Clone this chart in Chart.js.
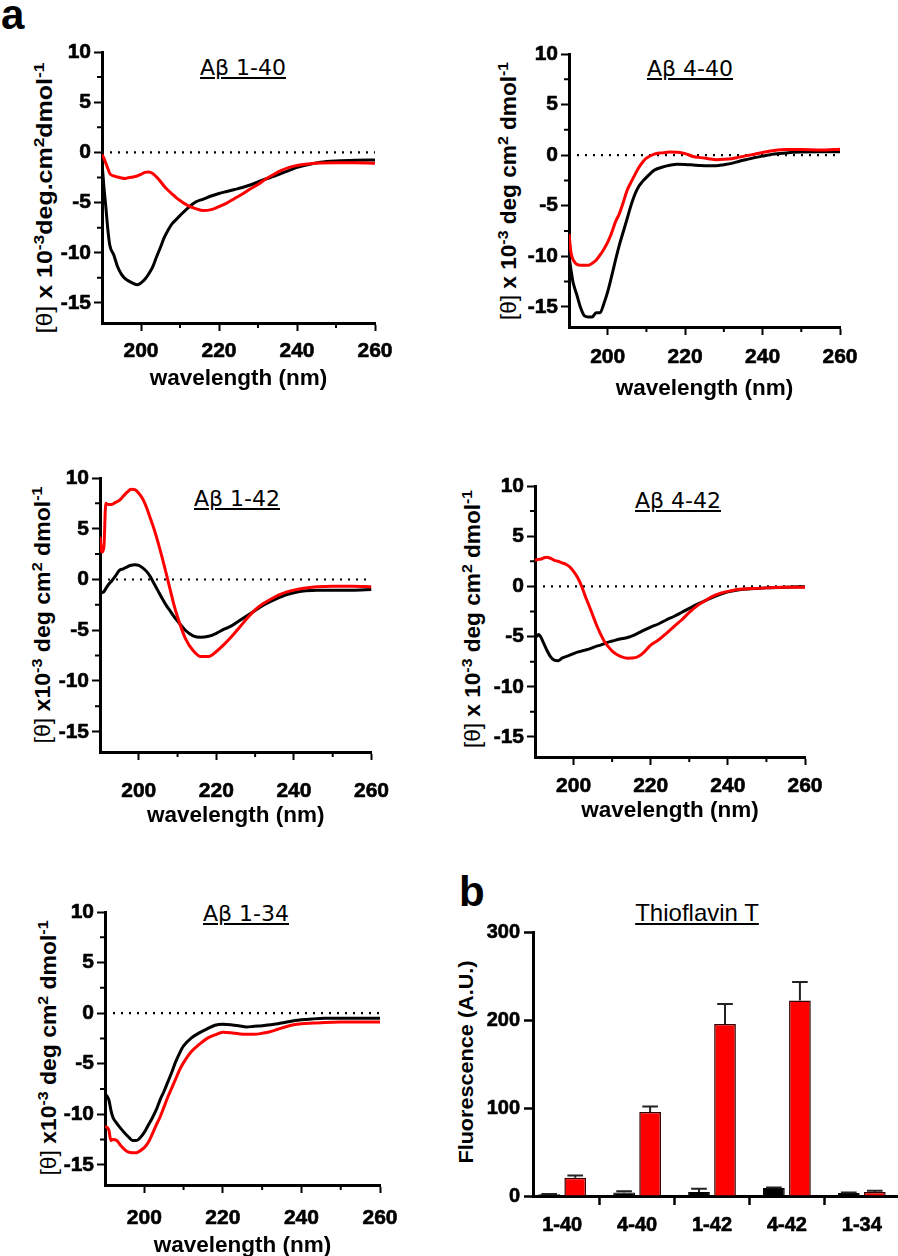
<!DOCTYPE html>
<html>
<head>
<meta charset="utf-8">
<title>CD spectra and Thioflavin T</title>
<script src="https://cdn.jsdelivr.net/npm/chart.js@4.4.1/dist/chart.umd.min.js"></script>
<style>
  html, body { margin: 0; padding: 0; background: #fff; }
  body { position: relative; width: 898px; height: 1256px; overflow: hidden; color: #000; }
  .box { position: absolute; }
  .box canvas { display: block; }
  .tag { position: absolute; font: bold 42px "Liberation Sans", Arial, sans-serif; line-height: 1; }
  .ttl { position: absolute; font: 22px "DejaVu Sans", sans-serif; line-height: 1; white-space: nowrap;
         transform: translateX(-50%); text-decoration: underline; text-decoration-thickness: 1.5px; text-underline-offset: 2px; }
  .ttl.tht { font: 24px "Liberation Sans", Arial, sans-serif; line-height: 1; }
  .ylab { position: absolute; font: bold 22px "Liberation Sans", Arial, sans-serif; line-height: 1; white-space: nowrap; }
  .ylab.tht { font-size: 21px; }
  .ylab sup { font-size: 0.7em; vertical-align: 0.5em; line-height: 0; }
  .ylab .th { font-weight: normal; }
</style>
</head>
<body>

<div class="tag" style="left:1px;top:-6px">a</div>
<div class="tag" style="left:459px;top:871px">b</div>

<div class="ttl" style="left:243px;top:57px">Aβ 1-40</div>
<div class="ttl" style="left:690px;top:58px">Aβ 4-40</div>
<div class="ttl" style="left:237px;top:488px">Aβ 1-42</div>
<div class="ttl" style="left:678px;top:490px">Aβ 4-42</div>
<div class="ttl" style="left:246px;top:903px">Aβ 1-34</div>
<div class="ttl tht" style="left:697px;top:901px">Thioflavin T</div>

<div class="ylab" data-len="271" style="left:45px;top:198px"><span class="th">[θ]</span> x 10<sup>-3</sup>deg.cm<sup>2</sup>dmol<sup>-1</sup></div>
<div class="ylab" data-len="258" style="left:509px;top:191px"><span class="th">[θ]</span> x 10<sup>-3</sup> deg cm<sup>2</sup> dmol<sup>-1</sup></div>
<div class="ylab" data-len="257" style="left:43px;top:615px"><span class="th">[θ]</span> x10<sup>-3</sup> deg cm<sup>2</sup> dmol<sup>-1</sup></div>
<div class="ylab" data-len="258" style="left:473px;top:619px"><span class="th">[θ]</span> x 10<sup>-3</sup> deg cm<sup>2</sup> dmol<sup>-1</sup></div>
<div class="ylab" data-len="255" style="left:49px;top:1048px"><span class="th">[θ]</span> x10<sup>-3</sup> deg cm<sup>2</sup> dmol<sup>-1</sup></div>
<div class="ylab tht" data-len="203" style="left:465px;top:1062px">Fluorescence (A.U.)</div>

<div class="box" id="p140"><canvas></canvas></div>
<div class="box" id="p440"><canvas></canvas></div>
<div class="box" id="p142"><canvas></canvas></div>
<div class="box" id="p442"><canvas></canvas></div>
<div class="box" id="p134"><canvas></canvas></div>
<div class="box" id="ptht"><canvas></canvas></div>

<script>
// wavelength grid (nm) shared by every CD spectrum
const wl = [190, 190.5, 191, 191.5, 192, 193, 194, 195, 196, 197, 198, 199, 200, 201, 202, 203, 204, 205,
  206, 207, 208, 209, 210, 212, 214, 216, 218, 220, 222, 224, 226, 228, 230, 232, 234, 236, 238, 240,
  243, 246, 250, 255, 260];

// [theta] x 10^-3, black = monomer trace, red = aggregated trace
const ab140Black = [-1.0, -3.5, -5.5, -7.7, -9.25, -10.2, -11.4, -12.15, -12.6, -12.85, -13.05, -13.2, -13.0,
  -12.65, -12.1, -11.4, -10.4, -9.45, -8.45, -7.7, -7.1, -6.7, -6.3, -5.55, -4.95, -4.65, -4.35, -4.1, -3.9,
  -3.7, -3.5, -3.25, -2.95, -2.65, -2.4, -2.1, -1.8, -1.5, -1.2, -0.98, -0.85, -0.78, -0.76];
const ab140Red = [-0.2, -0.6, -1.1, -1.6, -2.1, -2.35, -2.45, -2.55, -2.6, -2.5, -2.45, -2.35, -2.2, -2.0,
  -1.95, -2.1, -2.45, -2.9, -3.4, -3.8, -4.15, -4.5, -4.8, -5.3, -5.6, -5.8, -5.7, -5.4, -5.05, -4.6, -4.15,
  -3.65, -3.2, -2.65, -2.2, -1.8, -1.5, -1.3, -1.15, -1.06, -1.03, -1.03, -1.09];

const ab440Black = [-10.0, -11.3, -12.5, -13.2, -13.8, -15.1, -15.9, -16.0, -16.0, -15.6, -15.6, -14.7, -13.5,
  -12.0, -10.4, -8.9, -7.6, -6.3, -5.0, -3.9, -3.1, -2.6, -2.2, -1.5, -1.2, -1.0, -0.9, -0.92, -0.97, -1.03,
  -1.05, -1.05, -0.95, -0.82, -0.6, -0.42, -0.25, -0.1, 0.1, 0.22, 0.3, 0.33, 0.33];
const ab440Red = [-7.8, -9.6, -10.3, -10.6, -10.8, -10.9, -10.9, -10.9, -10.7, -10.4, -9.9, -9.3, -8.6, -7.7,
  -6.6, -5.8, -4.7, -3.5, -2.7, -1.95, -1.25, -0.7, -0.3, 0.1, 0.22, 0.3, 0.28, 0.15, -0.13, -0.25, -0.35,
  -0.45, -0.42, -0.35, -0.2, -0.05, 0.1, 0.25, 0.45, 0.55, 0.55, 0.5, 0.59];

const ab142Black = [-1.4, -1.3, -1.2, -0.9, -0.6, -0.15, 0.35, 0.9, 1.05, 1.25, 1.4, 1.45, 1.4, 1.15, 0.8,
  0.26, -0.45, -1.15, -1.85, -2.5, -3.05, -3.6, -4.1, -5.0, -5.55, -5.7, -5.6, -5.3, -4.9, -4.55, -4.05,
  -3.55, -3.05, -2.55, -2.15, -1.8, -1.5, -1.3, -1.12, -1.05, -1.05, -1.05, -0.98];
const ab142Red = [4.2, 2.7, 3.2, 7.5, 7.4, 7.4, 7.6, 7.8, 8.2, 8.6, 8.9, 8.85, 8.5, 7.95, 7.1, 6.0, 4.9, 3.6,
  2.2, 0.7, -0.85, -2.4, -3.7, -5.8, -7.0, -7.6, -7.6, -7.1, -6.4, -5.6, -4.7, -3.8, -3.0, -2.4, -1.95,
  -1.55, -1.25, -1.05, -0.85, -0.72, -0.66, -0.66, -0.72];

const ab442Black = [-5.1, -4.95, -4.8, -5.05, -5.45, -6.3, -7.0, -7.35, -7.4, -7.15, -7.0, -6.85, -6.7, -6.55,
  -6.45, -6.35, -6.25, -6.1, -5.95, -5.85, -5.7, -5.55, -5.45, -5.25, -5.1, -4.8, -4.4, -4.05, -3.75, -3.35,
  -3.0, -2.6, -2.2, -1.8, -1.45, -1.1, -0.8, -0.55, -0.33, -0.24, -0.15, -0.08, -0.03];
const ab442Red = [2.6, 2.65, 2.7, 2.7, 2.8, 2.9, 2.8, 2.6, 2.5, 2.35, 2.2, 1.95, 1.5, 0.9, 0.1, -0.95, -1.9,
  -2.9, -3.9, -4.75, -5.5, -6.0, -6.45, -6.95, -7.15, -7.1, -6.65, -5.85, -5.35, -4.7, -4.0, -3.35, -2.6,
  -1.94, -1.45, -1.0, -0.7, -0.5, -0.28, -0.22, -0.15, -0.1, -0.1];

const ab134Black = [-8.0, -8.2, -8.6, -9.6, -10.3, -10.9, -11.4, -11.85, -12.25, -12.6, -12.6, -12.3, -11.8,
  -11.1, -10.4, -9.6, -8.6, -7.75, -6.8, -5.85, -4.8, -3.95, -3.25, -2.45, -1.95, -1.55, -1.2, -1.1, -1.15,
  -1.25, -1.38, -1.3, -1.25, -1.15, -1.05, -0.9, -0.75, -0.65, -0.57, -0.52, -0.5, -0.5, -0.5];
const ab134Red = [-11.2, -11.3, -11.6, -12.6, -12.5, -12.6, -13.1, -13.5, -13.75, -13.8, -13.8, -13.6, -13.3,
  -12.8, -12.0, -11.1, -10.3, -9.3, -8.3, -7.4, -6.5, -5.6, -4.9, -3.8, -3.1, -2.5, -2.15, -1.9, -1.95,
  -2.05, -2.1, -2.1, -2.0, -1.85, -1.6, -1.35, -1.15, -1.05, -0.98, -0.92, -0.89, -0.89, -0.89];

const zeroWl = [190, 260];
const zeroVal = [0, 0];
const cdXTicks = [200, 220, 240, 260];
const cdYTicks = [-15, -10, -5, 0, 5, 10];

// Thioflavin T fluorescence (A.U.), mean and upper error
const groups = ['1-40', '4-40', '1-42', '4-42', '1-34'];
const thtBlack = [2, 4, 4.5, 9, 3.5];
const thtBlackErr = [0.4, 1.5, 3.7, 0.8, 0.5];
const thtRed = [20.6, 95.4, 195.4, 222.3, 4.5];
const thtRedErr = [2.6, 6.3, 22.7, 21, 1.5];
const thtYTicks = [0, 100, 200, 300];

const RED = '#ff0000';
const ARIAL = '"Liberation Sans", Arial, sans-serif';
Chart.defaults.color = '#000';
Chart.defaults.font.family = ARIAL;

// rotate the y titles and stretch them to the length they have in the figure
document.querySelectorAll('.ylab').forEach(el => {
  const k = (+el.dataset.len) / el.offsetWidth;
  el.style.transform = `translate(-50%, -50%) rotate(-90deg) scaleX(${k.toFixed(3)})`;
});

// short unlabeled ticks half way between the labeled ones
const minorTicks = {
  id: 'minorTicks',
  afterDraw(chart) {
    const { ctx } = chart;
    ctx.save();
    ctx.strokeStyle = '#000';
    ctx.lineWidth = 2;
    ['x', 'y'].forEach(id => {
      const s = chart.scales[id];
      const vals = s.ticks.map(t => t.value);
      ctx.beginPath();
      for (let i = 0; i < vals.length - 1; i++) {
        const p = s.getPixelForValue((vals[i] + vals[i + 1]) / 2);
        if (id === 'x') { ctx.moveTo(p, s.top); ctx.lineTo(p, s.top + 5); }
        else { ctx.moveTo(s.right, p); ctx.lineTo(s.right - 5, p); }
      }
      ctx.stroke();
    });
    ctx.restore();
  }
};

const errorBars = {
  id: 'errorBars',
  afterDatasetsDraw(chart) {
    const { ctx } = chart;
    const y = chart.scales.y;
    ctx.save();
    ctx.strokeStyle = '#222';
    ctx.lineWidth = 2;
    chart.data.datasets.forEach((ds, i) => {
      if (!ds.errUp) return;
      chart.getDatasetMeta(i).data.forEach((bar, j) => {
        const top = y.getPixelForValue(ds.data[j].y + ds.errUp[j]);
        const half = bar.width * 0.36;
        ctx.beginPath();
        ctx.moveTo(bar.x, bar.y);
        ctx.lineTo(bar.x, top);
        ctx.moveTo(bar.x - half, top);
        ctx.lineTo(bar.x + half, top);
        ctx.stroke();
      });
    });
    ctx.restore();
  }
};

function place(id, left, top, width, height) {
  const box = document.getElementById(id);
  box.style.left = left + 'px';
  box.style.top = top + 'px';
  const canvas = box.querySelector('canvas');
  canvas.width = Math.round(width);
  canvas.height = Math.round(height);
  return canvas;
}

const pts = (xs, ys) => xs.map((x, i) => ({ x, y: ys[i] }));

function axisStyle(tickLength, tickWidth) {
  return {
    border: { display: true, color: '#000', width: 3 },
    grid: { display: true, drawOnChartArea: false, drawTicks: true, tickLength, tickWidth, tickColor: '#000' }
  };
}

// a thin outline makes the tick numbers as heavy as in the figure
const heavy = { textStrokeColor: '#000', textStrokeWidth: 0.6 };

function cdChart(p) {
  const Wy = 80, padTop = 16, padRight = 34;
  const titleFont = { family: ARIAL, weight: 'bold', size: 22.5 };
  const Hx = Math.round(p.titleY - p.bottom + 22.5 * 1.2 / 2);
  const cl = p.left - Wy, ct = p.top - padTop;
  const canvas = place(p.id, cl, ct, p.right + padRight - cl, p.bottom + Hx - ct);
  const tickFont = { family: ARIAL, weight: 'bold', size: 21 };
  return new Chart(canvas, {
    type: 'line',
    data: {
      datasets: [
        { data: pts(wl, p.red), borderColor: RED, borderWidth: 3, pointRadius: 0, cubicInterpolationMode: 'monotone', borderJoinStyle: 'round' },
        { data: pts(wl, p.black), borderColor: '#000', borderWidth: 3, pointRadius: 0, cubicInterpolationMode: 'monotone', borderJoinStyle: 'round' },
        { data: pts(zeroWl, zeroVal), borderColor: '#000', borderWidth: 2.2, borderDash: [2, 6], pointRadius: 0 }
      ]
    },
    options: {
      responsive: false,
      animation: false,
      events: [],
      layout: { padding: { top: padTop, right: padRight, left: 0, bottom: 0 } },
      plugins: { legend: { display: false }, tooltip: { enabled: false } },
      scales: {
        x: {
          type: 'linear', min: 190, max: 260,
          afterBuildTicks: s => { s.ticks = cdXTicks.map(v => ({ value: v })); },
          afterFit: s => { s.height = Hx; },
          ...axisStyle(8, 2),
          ticks: { font: tickFont, padding: p.tickPad, maxRotation: 0, autoSkip: false, ...heavy },
          title: { display: true, text: 'wavelength (nm)', font: titleFont, padding: { top: 0, bottom: 0 } }
        },
        y: {
          type: 'linear', min: -17, max: 10,
          afterBuildTicks: s => { s.ticks = cdYTicks.map(v => ({ value: v })); },
          afterFit: s => { s.width = Wy; },
          ...axisStyle(8, 2),
          ticks: { font: tickFont, padding: 3, ...heavy }
        }
      }
    },
    plugins: [minorTicks]
  });
}

cdChart({ id: 'p140', left: 102, right: 375, top: 52, bottom: 323, titleY: 378, tickPad: 8, black: ab140Black, red: ab140Red });
cdChart({ id: 'p440', left: 569, right: 840, top: 54, bottom: 327, titleY: 388, tickPad: 10, black: ab440Black, red: ab440Red });
cdChart({ id: 'p142', left: 100, right: 374, top: 478, bottom: 752, titleY: 815, tickPad: 19, black: ab142Black, red: ab142Red });
cdChart({ id: 'p442', left: 535, right: 805, top: 486, bottom: 757, titleY: 810, tickPad: 9, black: ab442Black, red: ab442Red });
cdChart({ id: 'p134', left: 105, right: 380, top: 912, bottom: 1185, titleY: 1245, tickPad: 13, black: ab134Black, red: ab134Red });

// Thioflavin T bars
(function () {
  const left = 533, right = 897, top = 932, bottom = 1196;
  const Wy = 100, padTop = 16, Hx = 50;
  const cl = left - Wy, ct = top - padTop;
  const canvas = place('ptht', cl, ct, 898 - cl, bottom + Hx - ct);
  const font = { family: ARIAL, weight: 'bold', size: 20 };
  new Chart(canvas, {
    type: 'bar',
    data: {
      datasets: [
        { data: pts(groups.map((g, i) => i), thtBlack), errUp: thtBlackErr, backgroundColor: '#000', borderColor: '#000', borderWidth: 1 },
        { data: pts(groups.map((g, i) => i), thtRed), errUp: thtRedErr, backgroundColor: RED, borderColor: '#3a0000', borderWidth: 1.5 }
      ]
    },
    options: {
      responsive: false,
      animation: false,
      events: [],
      layout: { padding: { top: padTop, right: 898 - right, left: 0, bottom: 0 } },
      datasets: { bar: { barPercentage: 0.835, categoryPercentage: 0.695 } },
      plugins: { legend: { display: false }, tooltip: { enabled: false } },
      scales: {
        x: {
          type: 'linear', min: -0.39, max: 4.47, offset: false,
          afterBuildTicks: s => { s.ticks = groups.map((g, i) => ({ value: i })); },
          afterFit: s => { s.height = Hx; },
          ...axisStyle(9, 2.5),
          ticks: { font, padding: 8, maxRotation: 0, autoSkip: false, callback: v => groups[v], ...heavy }
        },
        y: {
          type: 'linear', min: 0, max: 300,
          afterBuildTicks: s => { s.ticks = thtYTicks.map(v => ({ value: v })); },
          afterFit: s => { s.width = Wy; },
          ...axisStyle(9, 2.5),
          ticks: { font, padding: 4, ...heavy }
        }
      }
    },
    plugins: [errorBars]
  });
})();
</script>
</body>
</html>
